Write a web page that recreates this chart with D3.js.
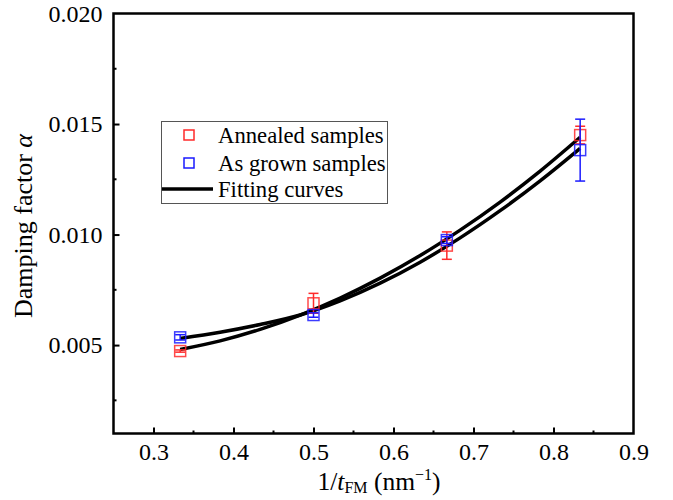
<!DOCTYPE html>
<html><head><meta charset="utf-8">
<script src="https://cdn.jsdelivr.net/npm/d3@7"></script>
<style>body{margin:0;background:#fff}svg{display:block}</style>
</head><body><svg id="c" width="673" height="500"></svg>
<script>
// Data
const xValues = [1/3, 0.5, 2/3, 5/6];
const annealed = [0.00473, 0.00689, 0.00950, 0.01450];
const annealedErr = [0.00005, 0.00045, 0.00062, 0.00040];
const asGrown = [0.00535, 0.00636, 0.00975, 0.01382];
const asGrownErr = [0.00012, 0.00010, 0.00015, 0.00140];
const fitX = [0.3333, 0.3833, 0.4333, 0.4833, 0.5333, 0.5833, 0.6333, 0.6833, 0.7333, 0.7833, 0.8333];
const fitAnnealed = [0.00480, 0.00519, 0.00571, 0.00636, 0.00713, 0.00803, 0.00905, 0.01020, 0.01147, 0.01287, 0.01440];
const fitAsGrown = [0.00530, 0.00558, 0.00593, 0.00636, 0.00700, 0.00780, 0.00875, 0.00985, 0.01108, 0.01243, 0.01390];
const xTicks = [0.3, 0.4, 0.5, 0.6, 0.7, 0.8, 0.9];
const xMinor = [0.35, 0.45, 0.55, 0.65, 0.75, 0.85];
const yTicks = [0.005, 0.010, 0.015, 0.020];
const yMinor = [0.0025, 0.0075, 0.0125, 0.0175];
const legendLabels = ["Annealed samples", "As grown samples", "Fitting curves"];

const FONT = "Liberation Serif";
const svg = d3.select("#c");
const L = 113.5, R = 633.5, T = 13.5, B = 433.5;
const x = d3.scaleLinear().domain([0.25, 0.9]).range([L, R]);
const y = d3.scaleLinear().domain([0.001, 0.020]).range([B, T]);
const red = "#ff2a2a", blue = "#1a1aff";

// fitting curves
const line = d3.line().x((d,i)=>x(fitX[i])).y(d=>y(d)).curve(d3.curveCatmullRom);
[fitAnnealed, fitAsGrown].forEach(s=>{
  svg.append("path").attr("d", line(s)).attr("fill","none").attr("stroke","#000").attr("stroke-width",3.5);
});

// error bars + markers
function series(vals, errs, color){
  const g = svg.append("g").attr("stroke", color).attr("fill","none").attr("stroke-width",1.5);
  vals.forEach((v,i)=>{
    const cx = x(xValues[i]);
    g.append("line").attr("x1",cx).attr("x2",cx).attr("y1",y(v-errs[i])).attr("y2",y(v+errs[i]));
    [v-errs[i], v+errs[i]].forEach(e=>g.append("line").attr("x1",cx-5).attr("x2",cx+5).attr("y1",y(e)).attr("y2",y(e)));
    g.append("rect").attr("x",cx-5.5).attr("y",y(v)-5.5).attr("width",11).attr("height",11).attr("opacity",0.85);
  });
}
series(annealed, annealedErr, red);
series(asGrown, asGrownErr, blue);

// axes box
svg.append("rect").attr("x",L).attr("y",T).attr("width",R-L).attr("height",B-T)
  .attr("fill","none").attr("stroke","#000").attr("stroke-width",2.5);

const xAxis = d3.axisBottom(x).tickValues(xTicks).tickSize(-6).tickPadding(9).tickFormat(d3.format(".1f"));
const gx = svg.append("g").attr("transform",`translate(0,${B})`).call(xAxis);
const yAxis = d3.axisLeft(y).tickValues(yTicks).tickSize(-6).tickPadding(11).tickFormat(d3.format(".3f"));
const gy = svg.append("g").attr("transform",`translate(${L},0)`).call(yAxis);
[gx, gy].forEach(g=>{
  g.select(".domain").remove();
  g.selectAll(".tick line").attr("stroke","#000").attr("stroke-width",2);
  g.selectAll(".tick text").style("font-size","24px").style("font-family",FONT).attr("fill","#000");
});
gy.selectAll(".tick").filter(d=>d===0.020).select("line").remove();
gx.selectAll(".tick").filter(d=>d===0.9).select("line").remove();
xMinor.forEach(v=>svg.append("line").attr("x1",x(v)).attr("x2",x(v)).attr("y1",B).attr("y2",B-3).attr("stroke","#000").attr("stroke-width",2));
yMinor.forEach(v=>svg.append("line").attr("x1",L).attr("x2",L+3).attr("y1",y(v)).attr("y2",y(v)).attr("stroke","#000").attr("stroke-width",2));

// axis titles
const xt = svg.append("text").attr("x",379).attr("y",490).attr("text-anchor","middle")
  .style("font-family",FONT).style("font-size","25.5px");
xt.append("tspan").text("1/");
xt.append("tspan").attr("font-style","italic").text("t");
xt.append("tspan").style("font-size","16px").attr("dy",3).text("FM");
xt.append("tspan").attr("dy",-3).text(" (nm");
xt.append("tspan").style("font-size","16px").attr("dy",-10).text("−1");
xt.append("tspan").attr("dy",10).text(")");

const yt = svg.append("text").attr("transform","translate(32,226) rotate(-90)").attr("text-anchor","middle")
  .style("font-family",FONT).style("font-size","26px");
yt.append("tspan").text("Damping factor ");
yt.append("tspan").attr("font-style","italic").text("α");

// legend
const lg = svg.append("g");
lg.append("rect").attr("x",161.5).attr("y",121.5).attr("width",226).attr("height",82).attr("fill","#fff").attr("stroke","#555").attr("stroke-width",1);
const ly = [135, 163, 189];
lg.append("rect").attr("x",184).attr("y",ly[0]-5).attr("width",10).attr("height",10).attr("fill","none").attr("stroke",red).attr("stroke-width",1.5);
lg.append("rect").attr("x",184).attr("y",ly[1]-5).attr("width",10).attr("height",10).attr("fill","none").attr("stroke",blue).attr("stroke-width",1.5);
lg.append("line").attr("x1",162).attr("x2",213).attr("y1",ly[2]).attr("y2",ly[2]).attr("stroke","#000").attr("stroke-width",3.5);
legendLabels.forEach((t,i)=>lg.append("text").attr("x",218).attr("y",ly[i]+7.5)
  .style("font-family",FONT).style("font-size","22.7px").text(t));
</script></body></html>
